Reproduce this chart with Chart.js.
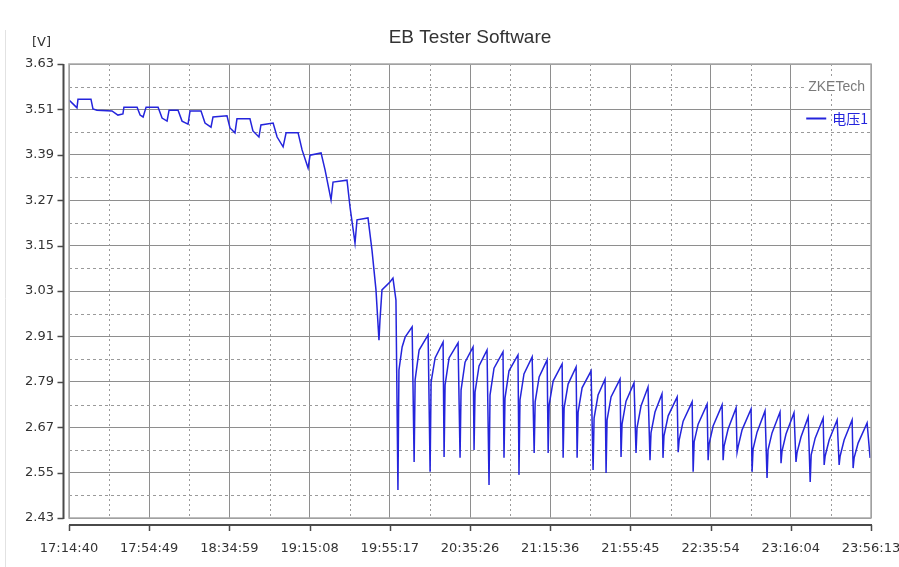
<!DOCTYPE html>
<html>
<head>
<meta charset="utf-8">
<script src="https://cdn.jsdelivr.net/npm/chart.js@4/dist/chart.umd.min.js"></script>
<style>
  html, body { margin: 0; padding: 0; background: #ffffff; }
  #wrap { width: 899px; height: 567px; position: relative; }
</style>
</head>
<body>
<div id="wrap"><canvas id="c" width="899" height="567"></canvas></div>
<script>
// ---------------- data ----------------
const chartTitle = 'EB Tester Software';
const unitLabel = '[V]';
const brandLabel = 'ZKETech';
const seriesName = '电压1';

// x tick labels (clock time), evenly spaced over the test
const tickLabels = ['17:14:40','17:54:49','18:34:59','19:15:08','19:55:17','20:35:26',
                    '21:15:36','21:55:45','22:35:54','23:16:04','23:56:13'];
const spanMinutes = 401.55;          // 17:14:40 -> 23:56:13
const yTicks = [2.43, 2.55, 2.67, 2.79, 2.91, 3.03, 3.15, 3.27, 3.39, 3.51, 3.63];

// [minutes since 17:14:40, volts] — stepped rest/load section
const stepPhase = [
  [0.0,3.535],[2.5,3.522],[4.0,3.514],[4.5,3.537],[11.0,3.537],[12.0,3.511],[14.0,3.508],
  [21.5,3.506],[24.5,3.495],[27.0,3.498],[27.5,3.516],[34.1,3.516],[35.6,3.495],[37.1,3.490],
  [38.6,3.516],[44.6,3.516],[46.6,3.487],[49.1,3.479],[50.1,3.508],[54.6,3.508],[56.6,3.479],
  [59.6,3.471],[60.6,3.506],[66.1,3.506],[68.1,3.474],[71.1,3.463],[72.1,3.490],[79.1,3.493],
  [80.6,3.461],[83.1,3.448],[84.1,3.485],[90.6,3.485],[92.1,3.453],[95.1,3.437],[96.1,3.469],
  [102.2,3.474],[104.2,3.437],[107.2,3.411],[108.7,3.448],[114.7,3.448],[116.7,3.403],
  [119.7,3.355],[120.7,3.389],[126.2,3.395],[128.2,3.350],[131.2,3.271],[132.2,3.318],
  [139.2,3.323],[140.7,3.252],[143.2,3.157],[144.2,3.218],[149.7,3.223],[151.7,3.138],
  [153.7,3.033],[155.2,2.900],[155.7,2.953],[156.7,3.033],[160.7,3.054],[162.2,3.064],
  [163.7,3.006],[164.7,2.504],[165.2,2.821],[166.8,2.882],[168.3,2.908],[171.8,2.935]
];

// [minutes, volts] — pulsed sawtooth section (drop, recovery, rise, peak)
const pulsePhase = [
  [172.8,2.578],[173.3,2.795],[175.3,2.874],[179.8,2.914],
  [180.8,2.552],[181.3,2.789],[183.3,2.853],[187.3,2.895],
  [187.8,2.591],[188.3,2.782],[190.3,2.853],[194.8,2.893],
  [195.8,2.589],[196.3,2.768],[198.3,2.842],[202.3,2.882],
  [202.8,2.610],[203.3,2.763],[205.3,2.832],[209.3,2.874],
  [210.3,2.517],[210.8,2.755],[212.8,2.826],[217.3,2.869],
  [217.8,2.589],[218.3,2.747],[220.3,2.819],[224.8,2.861],
  [225.3,2.544],[225.8,2.742],[227.8,2.811],[231.9,2.856],
  [232.9,2.602],[233.4,2.737],[235.4,2.803],[239.4,2.848],
  [239.9,2.602],[240.4,2.729],[242.4,2.792],[246.9,2.837],
  [247.4,2.589],[247.9,2.721],[249.9,2.784],[253.9,2.829],
  [254.4,2.589],[254.9,2.710],[256.9,2.774],[261.4,2.819],
  [262.4,2.557],[262.9,2.694],[264.9,2.755],[268.4,2.797],
  [268.9,2.549],[269.4,2.689],[271.4,2.750],[275.9,2.797],
  [276.4,2.591],[276.9,2.678],[278.9,2.739],[282.9,2.787],
  [283.9,2.602],[284.4,2.668],[286.4,2.726],[289.9,2.776],
  [290.9,2.583],[291.4,2.655],[293.4,2.710],[296.9,2.758],
  [297.4,2.589],[297.9,2.647],[300.0,2.700],[304.5,2.750],
  [305.0,2.604],[305.5,2.636],[307.5,2.686],[312.0,2.737],
  [312.5,2.552],[313.0,2.631],[315.0,2.678],[319.5,2.731],
  [320.0,2.583],[320.5,2.626],[322.5,2.673],[327.0,2.729],
  [327.5,2.583],[328.0,2.620],[330.0,2.665],[334.0,2.721],
  [334.5,2.604],[335.0,2.618],[337.0,2.663],[341.5,2.718],
  [342.0,2.552],[342.5,2.612],[344.5,2.657],[348.5,2.713],
  [349.5,2.536],[350.0,2.610],[352.0,2.655],[356.0,2.710],
  [356.5,2.575],[357.0,2.607],[359.0,2.652],[363.0,2.708],
  [364.0,2.578],[364.5,2.602],[366.5,2.644],[370.1,2.697],
  [371.1,2.525],[371.6,2.597],[373.6,2.641],[377.6,2.694],
  [378.1,2.570],[378.6,2.594],[380.6,2.636],[384.6,2.689],
  [385.6,2.570],[386.1,2.594],[388.1,2.636],[392.1,2.689],
  [392.6,2.562],[393.1,2.589],[395.1,2.628],[399.6,2.681],
  [401.1,2.589]
];

// ---------------- styles ----------------
const LINE_BLUE = '#2424dc';
const MAJOR_GRID = '#8e8e8e';
const MINOR_GRID = '#9a9a9a';
const AXIS_DARK = '#4a4a4a';
const FRAME = '#a8a8a8';
const TEXT = '#333333';
const TICK_FONT = { family: 'DejaVu Sans', size: 13 };

const points = stepPhase.concat(pulsePhase).map(p => ({ x: p[0], y: p[1] }));

const decor = {
  id: 'decor',
  beforeDatasetsDraw(chart) {
    const { ctx, chartArea: a, scales: { x, y } } = chart;
    ctx.save();
    ctx.strokeStyle = MINOR_GRID;
    ctx.lineWidth = 1;
    ctx.setLineDash([3, 3]);
    for (let i = 0; i < yTicks.length - 1; i++) {
      const py = Math.round(y.getPixelForValue((yTicks[i] + yTicks[i + 1]) / 2)) + 0.5;
      ctx.beginPath(); ctx.moveTo(a.left, py); ctx.lineTo(a.right, py); ctx.stroke();
    }
    ctx.setLineDash([2, 3]);
    const step = spanMinutes / (tickLabels.length - 1);
    for (let i = 0; i < tickLabels.length - 1; i++) {
      const px = Math.round(x.getPixelForValue(step * (i + 0.5))) + 0.5;
      ctx.beginPath(); ctx.moveTo(px, a.top); ctx.lineTo(px, a.bottom); ctx.stroke();
    }
    ctx.restore();
  },
  afterDraw(chart) {
    const { ctx, chartArea: a, scales: { x, y } } = chart;
    ctx.save();
    // faint page edge
    ctx.strokeStyle = '#e2e2e2';
    ctx.lineWidth = 1;
    ctx.beginPath(); ctx.moveTo(5.5, 30); ctx.lineTo(5.5, 567); ctx.stroke();
    // plot frame
    ctx.strokeStyle = FRAME;
    ctx.lineWidth = 1.5;
    ctx.strokeRect(a.left, a.top, a.right - a.left, a.bottom - a.top);
    // offset y axis line + ticks
    ctx.strokeStyle = AXIS_DARK;
    ctx.lineWidth = 2;
    const ax = a.left - 5.5;
    ctx.beginPath(); ctx.moveTo(ax, a.top); ctx.lineTo(ax, a.bottom + 1); ctx.stroke();
    ctx.lineWidth = 1.5;
    yTicks.forEach(v => {
      const py = Math.round(y.getPixelForValue(v)) + 0.5;
      ctx.beginPath(); ctx.moveTo(ax - 6, py); ctx.lineTo(ax, py); ctx.stroke();
    });
    // offset x axis line + ticks
    ctx.lineWidth = 2;
    const ay = a.bottom + 7;
    ctx.beginPath(); ctx.moveTo(a.left, ay); ctx.lineTo(a.right + 1, ay); ctx.stroke();
    ctx.lineWidth = 1.5;
    const step = spanMinutes / (tickLabels.length - 1);
    tickLabels.forEach((_, i) => {
      const px = Math.round(x.getPixelForValue(step * i)) + 0.5;
      ctx.beginPath(); ctx.moveTo(px, ay); ctx.lineTo(px, ay + 6); ctx.stroke();
    });
    // title
    ctx.fillStyle = TEXT;
    ctx.font = '19px "Liberation Sans"';
    ctx.textAlign = 'center';
    ctx.textBaseline = 'middle';
    ctx.fillText(chartTitle, (a.left + a.right) / 2, 38);
    // unit
    ctx.font = '13px "DejaVu Sans"';
    ctx.textAlign = 'left';
    ctx.fillText(unitLabel, 32, 43);
    // brand label
    ctx.font = '14px "Liberation Sans"';
    const bw = ctx.measureText(brandLabel).width;
    ctx.fillStyle = '#ffffff';
    ctx.fillRect(a.right - bw - 10, 79, bw + 9, 15);
    ctx.fillStyle = '#7a7a7a';
    ctx.textAlign = 'right';
    ctx.fillText(brandLabel, a.right - 6, 87);
    // legend
    ctx.font = '14px "Noto Sans CJK SC"';
    ctx.fillStyle = LINE_BLUE;
    ctx.fillText(chart.data.datasets[0].label, a.right - 3, 119);
    const tw = ctx.measureText(chart.data.datasets[0].label).width;
    ctx.strokeStyle = LINE_BLUE;
    ctx.lineWidth = 2;
    ctx.beginPath();
    ctx.moveTo(a.right - 3 - tw - 26, 118.5); ctx.lineTo(a.right - 3 - tw - 6, 118.5); ctx.stroke();
    ctx.restore();
  }
};

new Chart(document.getElementById('c'), {
  type: 'line',
  data: {
    datasets: [{
      label: seriesName,
      data: points,
      borderColor: LINE_BLUE,
      borderWidth: 1.5,
      pointRadius: 0,
      tension: 0,
      fill: false
    }]
  },
  options: {
    responsive: false,
    animation: false,
    devicePixelRatio: 1,
    layout: { padding: { top: 64, right: 28, left: 0, bottom: 0 } },
    plugins: { legend: { display: false }, title: { display: false }, tooltip: { enabled: false } },
    scales: {
      x: {
        type: 'linear',
        min: 0,
        max: spanMinutes,
        afterBuildTicks(scale) {
          const step = spanMinutes / (tickLabels.length - 1);
          scale.ticks = tickLabels.map((_, i) => ({ value: step * i }));
        },
        afterFit(scale) { scale.height = 49; scale.paddingLeft = 0; scale.paddingRight = 0; },
        ticks: {
          autoSkip: false,
          maxRotation: 0,
          padding: 23,
          color: TEXT,
          font: TICK_FONT,
          callback(value, index) { return tickLabels[index]; }
        },
        grid: { color: MAJOR_GRID, lineWidth: 1, drawTicks: false },
        border: { display: false }
      },
      y: {
        type: 'linear',
        min: yTicks[0],
        max: yTicks[yTicks.length - 1],
        afterBuildTicks(scale) { scale.ticks = yTicks.map(v => ({ value: v })); },
        afterFit(scale) { scale.width = 69; scale.paddingTop = 0; scale.paddingBottom = 0; },
        ticks: {
          padding: 15,
          color: TEXT,
          font: TICK_FONT,
          callback(value) { return Number(value).toFixed(2); }
        },
        grid: { color: MAJOR_GRID, lineWidth: 1, drawTicks: false },
        border: { display: false }
      }
    }
  },
  plugins: [decor]
});
</script>
</body>
</html>
